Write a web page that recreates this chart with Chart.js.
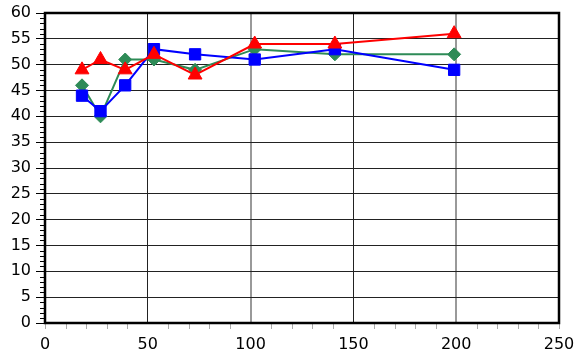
<!DOCTYPE html>
<html>
<head>
<meta charset="utf-8">
<script src="https://cdn.jsdelivr.net/npm/chart.js@4/dist/chart.umd.min.js"></script>
<style>
html,body{margin:0;padding:0;background:#fff;}
#wrap{width:580px;height:357px;position:relative;}
</style>
</head>
<body>
<div id="wrap"><canvas id="c" width="580" height="357"></canvas></div>
<script>
const xValues = [18, 27, 39, 53, 73, 102, 141, 199];
const greenValues = [46, 40, 51, 51, 49, 53, 52, 52];
const redValues = [49, 51, 49, 52, 48, 54, 54, 56];
const blueValues = [44, 41, 46, 53, 52, 51, 53, 49];
const xTicks = [0, 50, 100, 150, 200, 250];
const yTicks = [0, 5, 10, 15, 20, 25, 30, 35, 40, 45, 50, 55, 60];

const pts = v => xValues.map((x, i) => ({x: x, y: v[i]}));

const framePlugin = {
  id: 'frame',
  beforeDatasetsDraw(chart) {
    const {ctx, chartArea: a, scales} = chart;
    ctx.save();
    ctx.strokeStyle = '#000';
    ctx.lineWidth = 1;
    for (let v = 0; v <= 60; v++) {
      if (v % 5 === 0) continue;
      const y = Math.round(scales.y.getPixelForValue(v)) + 0.5;
      ctx.beginPath();
      ctx.moveTo(a.left - 5, y);
      ctx.lineTo(a.left, y);
      ctx.stroke();
    }
    ctx.strokeStyle = '#aaa';
    for (let v = 0; v <= 250; v += 10) {
      if (v % 50 === 0 && v !== 0 && v !== 250) continue;
      const x = Math.round(scales.x.getPixelForValue(v)) + 0.5;
      ctx.beginPath();
      ctx.moveTo(x, a.bottom + 1);
      ctx.lineTo(x, a.bottom + 6);
      ctx.stroke();
    }
    ctx.strokeStyle = '#000';
    ctx.lineWidth = 2.5;
    ctx.strokeRect(a.left, a.top, a.right - a.left, a.bottom - a.top);
    ctx.restore();
  }
};

new Chart(document.getElementById('c'), {
  type: 'scatter',
  data: {
    datasets: [
      {
        label: 'red', data: pts(redValues), showLine: true, order: 1,
        borderColor: '#ff0000', backgroundColor: '#ff0000', borderWidth: 2,
        pointStyle: 'triangle', pointRadius: 8, pointBorderWidth: 1
      },
      {
        label: 'blue', data: pts(blueValues), showLine: true, order: 2,
        borderColor: '#0000ff', backgroundColor: '#0000ff', borderWidth: 2,
        pointStyle: 'rect', pointRadius: 8, pointBorderWidth: 1
      },
      {
        label: 'green', data: pts(greenValues), showLine: true, order: 3,
        borderColor: '#2e8b57', backgroundColor: '#2e8b57', borderWidth: 2,
        pointStyle: 'rectRot', pointRadius: 6.5, pointBorderWidth: 1
      }
    ]
  },
  options: {
    responsive: false,
    animation: false,
    events: [],
    layout: {padding: {left: 0, top: 13, right: 21, bottom: 0}},
    plugins: {legend: {display: false}, tooltip: {enabled: false}},
    scales: {
      x: {
        type: 'linear', min: 0, max: 250,
        afterFit: s => { s.height = 34; s.paddingLeft = 0; s.paddingRight = 0; },
        afterBuildTicks: s => { s.ticks = xTicks.map(v => ({value: v})); },
        border: {display: false},
        grid: {
          drawTicks: false,
          color: c => (c.tick && (c.tick.value === 100 || c.tick.value === 200)) ? '#999' : '#222',
          lineWidth: c => (c.tick && (c.tick.value === 100 || c.tick.value === 200)) ? 2 : 1
        },
        ticks: {padding: 12, color: '#000', font: {family: 'DejaVu Sans', size: 16}, maxRotation: 0}
      },
      y: {
        type: 'linear', min: 0, max: 60,
        afterFit: s => { s.width = 45; s.paddingTop = 0; s.paddingBottom = 0; },
        afterBuildTicks: s => { s.ticks = yTicks.map(v => ({value: v})); },
        border: {display: false},
        grid: {color: '#222', tickColor: '#000', tickLength: 9, lineWidth: 1},
        ticks: {padding: 5, color: '#000', font: {family: 'DejaVu Sans', size: 16}}
      }
    }
  },
  plugins: [framePlugin]
});
</script>
</body>
</html>
